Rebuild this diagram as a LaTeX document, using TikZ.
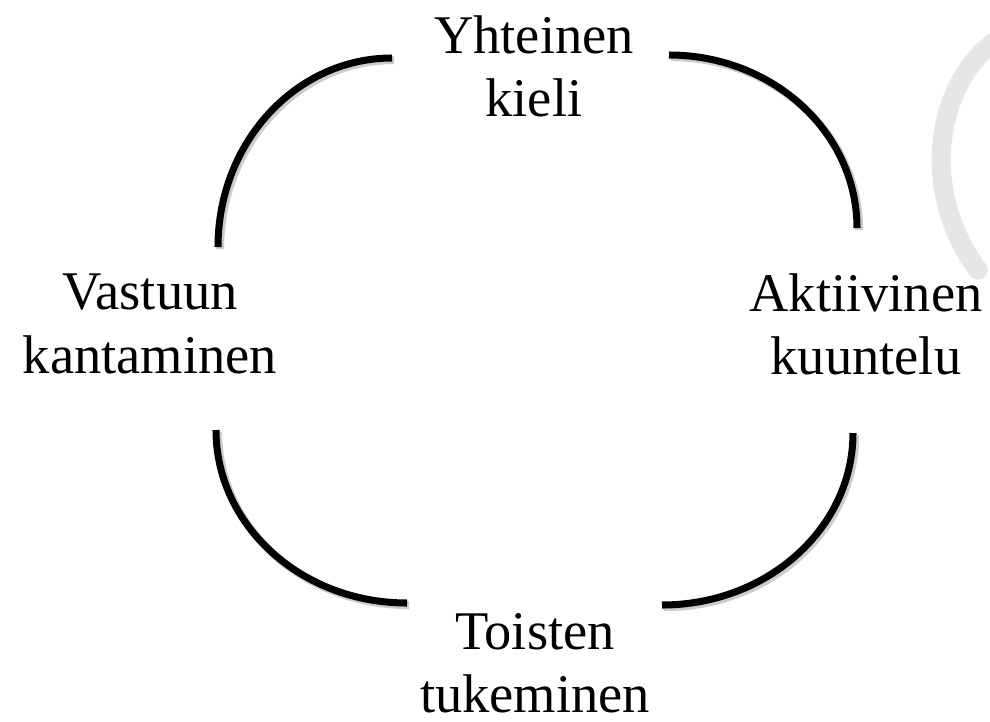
\documentclass[tikz,border=0pt]{standalone}
\usepackage{fontspec}
\setmainfont{Liberation Serif}
\usetikzlibrary{positioning}
\definecolor{ringblack}{RGB}{0, 0, 0}
\definecolor{watermarkgray}{RGB}{230, 230, 230}

\begin{document}
\begin{tikzpicture}[
    x=0.02cm, y=0.02cm,
    label/.style={align=center, inner sep=0pt, font=\fontsize{31}{36}\selectfont},
    ring/.style={line width=4pt, draw=ringblack, preaction={draw=black!20, line width=4.6pt, transform canvas={shift={(1.2pt,-1.2pt)}}}},
    watermark/.style={line width=11pt, draw=watermarkgray, line cap=round}
]
\useasboundingbox (0,0) rectangle (990,-721);

% Background mark
\begin{scope}
  \clip (0,0) rectangle (990,-721);
  \coordinate (mark_top) at (1000,-38);
  \coordinate (mark_bottom) at (978,-270);
  \draw [watermark] (mark_top) .. controls (940,-75) and (915,-185) .. (mark_bottom);
\end{scope}

% Labels
\node (shared_language) [label] at (534,-66) {Yhteinen\\kieli};
\node (taking_responsibility) [label] at (150,-324) {Vastuun\\kantaminen};
\node (active_listening) [label] at (866,-324) {Aktiivinen\\kuuntelu};
\node (supporting_others) [label] at (535,-663) {Toisten\\tukeminen};

% Arc ends
\coordinate (left_top) at (218,-247);
\coordinate (top_right) at (669,-55);
\coordinate (right_bottom) at (853,-433);
\coordinate (bottom_left) at (407,-603);

% Arcs
\foreach \from/\sa/\ea/\rx/\ry in {left_top/180/90/174/189, top_right/90/0/188/173,
    right_bottom/0/-90/191/172, bottom_left/-90/-180/191/173} {
    \draw [ring] (\from) arc[start angle=\sa, end angle=\ea, x radius=\rx, y radius=\ry];
}

\end{tikzpicture}
\end{document}
